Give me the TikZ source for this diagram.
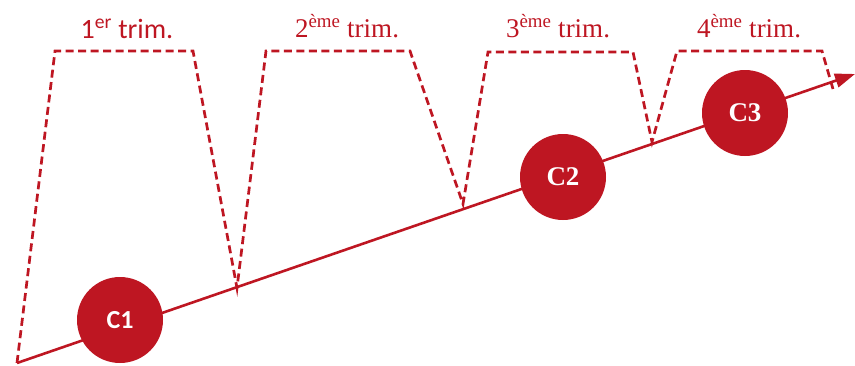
\documentclass[tikz,border=0pt]{standalone}
\usepackage{fontspec}
\setmainfont{Liberation Serif}
\newfontfamily\calfont{Carlito}
\usepackage{xcolor}
\usetikzlibrary{arrows.meta,calc}
\definecolor{trimred}{HTML}{BE1622}
\tikzset{
  axis/.style={draw=trimred, line width=2.6pt, -{Triangle[length=20pt, width=14pt]}},
  trimline/.style={draw=trimred, line width=2.7pt, dash pattern=on 8pt off 4.5pt},
  trimlabel/.style={text=trimred, anchor=base, font=\fontsize{27}{30}\selectfont, inner sep=0pt},
  ctrl/.style={circle, fill=trimred, text=white, minimum size=86pt, inner sep=0pt,
               font=\fontsize{27}{30}\selectfont\bfseries},
}

\begin{document}
\begin{tikzpicture}[x=1pt, y=-1pt]
  \useasboundingbox (0,0) rectangle (855,365);
  \coordinate (start) at (17,363);
  \coordinate (tip) at (855,74);
  % time axis
  \draw[axis] (start) -- (tip);
  % quarters
  \draw[trimline] (start) -- (55,51) -- (193,51) -- (237,288)
    -- (266,51) -- (410,51) -- (463,204)
    -- (488,52) -- (633,52) -- (652,142)
    -- (677,51) -- (822,51) -- (833,89);
  \node[trimlabel, font=\calfont\fontsize{28}{30}\selectfont] (t1) at (127,38) {1\textsuperscript{er} trim.};
  \node[trimlabel] (t2) at (347,37) {2\textsuperscript{ème} trim.};
  \node[trimlabel] (t3) at (558,37) {3\textsuperscript{ème} trim.};
  \node[trimlabel] (t4) at (749,37) {4\textsuperscript{ème} trim.};
  % controls
  \node[ctrl, font=\calfont\fontsize{26}{30}\selectfont\bfseries] (c1) at (120,320) {C1};
  \node[ctrl] (c2) at (563,177) {C2};
  \node[ctrl] (c3) at (745,113) {C3};
\end{tikzpicture}
\end{document}
